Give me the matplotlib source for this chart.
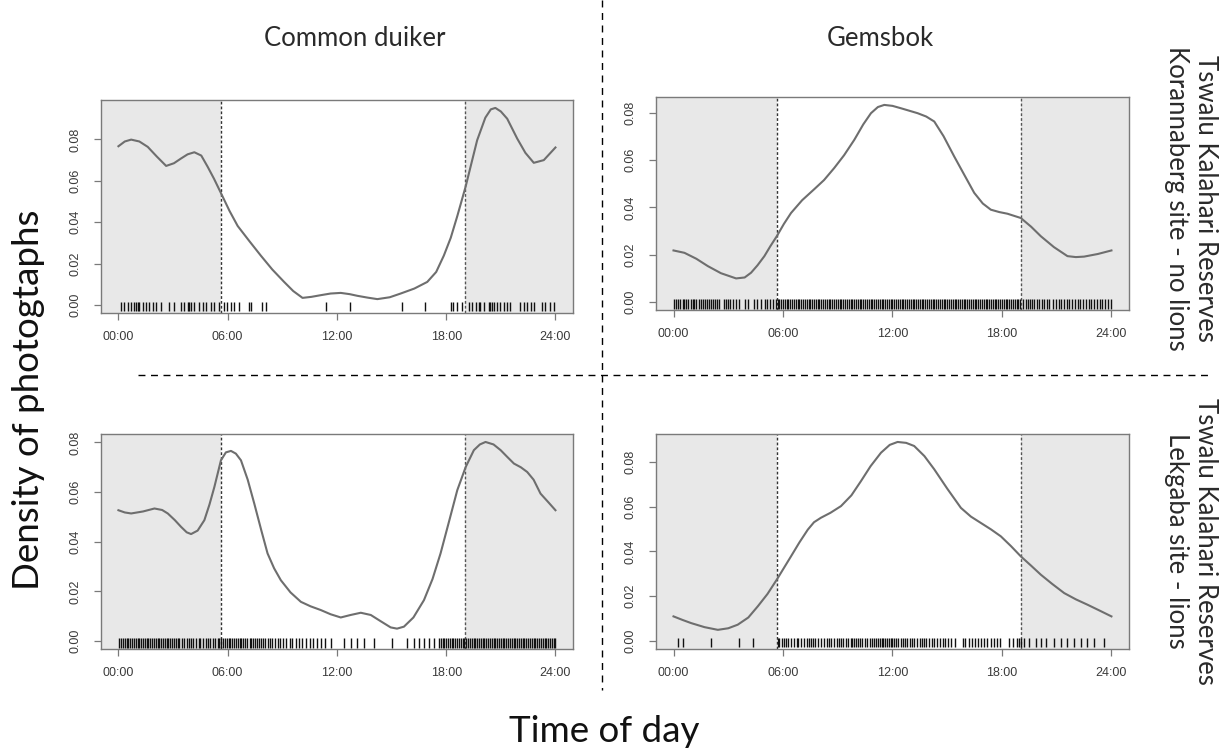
import matplotlib
matplotlib.use("Agg")
import matplotlib.pyplot as plt
from matplotlib.lines import Line2D

# activity density curves (hour of day, density)
duiker_north_hours = [0, 0.35, 0.7, 1.15, 1.61, 2.1, 2.62, 3.05, 3.44, 3.8, 4.17, 4.55, 4.9, 5.25, 5.63,
                      6.1, 6.55, 7.2, 7.82, 8.45, 9.1, 9.6, 10.11, 10.6, 11.11, 11.65, 12.21, 12.7, 13.12,
                      13.7, 14.22, 14.9, 15.5, 16.25, 16.96, 17.45, 17.87, 18.25, 18.61, 19.07, 19.4,
                      19.7, 20.15, 20.45, 20.7, 21.0, 21.35, 21.9, 22.35, 22.81, 23.36, 24]
duiker_north_dens = [0.0767, 0.0790, 0.0799, 0.0790, 0.0764, 0.0718, 0.0672, 0.0685, 0.0708, 0.0728,
                     0.0738, 0.0722, 0.0668, 0.0610, 0.0541, 0.0455, 0.0382, 0.0308, 0.0239, 0.0172,
                     0.0112, 0.0068, 0.0035, 0.0040, 0.0048, 0.0056, 0.0059, 0.0053, 0.0045, 0.0036,
                     0.0029, 0.0038, 0.0056, 0.0080, 0.0112, 0.0160, 0.0239, 0.0325, 0.0430, 0.0573,
                     0.0690, 0.0796, 0.0905, 0.0945, 0.0952, 0.0935, 0.0900, 0.0804, 0.0735, 0.0687,
                     0.0700, 0.0761]

gemsbok_north_hours = [0, 0.6, 1.25, 1.88, 2.6, 3.43, 3.9, 4.25, 4.6, 4.98, 5.3, 5.66, 6.05, 6.44, 7.05,
                       7.72, 8.25, 8.81, 9.35, 9.91, 10.4, 10.82, 11.2, 11.55, 12.0, 12.46, 12.9, 13.38,
                       13.85, 14.29, 14.8, 15.38, 15.95, 16.48, 16.95, 17.39, 17.85, 18.3, 19.03, 19.6,
                       20.13, 20.85, 21.59, 22.05, 22.5, 23.25, 24]
gemsbok_north_dens = [0.0218, 0.0208, 0.0183, 0.0152, 0.0122, 0.0100, 0.0104, 0.0124, 0.0155, 0.0194,
                      0.0235, 0.0278, 0.0330, 0.0376, 0.0430, 0.0477, 0.0515, 0.0566, 0.0620, 0.0685,
                      0.0750, 0.0797, 0.0823, 0.0832, 0.0828, 0.0818, 0.0808, 0.0797, 0.0783, 0.0762,
                      0.0700, 0.0615, 0.0535, 0.0461, 0.0416, 0.0390, 0.0380, 0.0373, 0.0355, 0.0318,
                      0.0278, 0.0232, 0.0194, 0.0190, 0.0192, 0.0203, 0.0218]

duiker_south_hours = [0, 0.35, 0.7, 1.35, 1.98, 2.4, 2.71, 3.1, 3.44, 3.75, 3.99, 4.35, 4.72, 5.0, 5.27,
                      5.63, 5.9, 6.18, 6.45, 6.73, 7.1, 7.46, 7.85, 8.19, 8.55, 8.92, 9.45, 10.02, 10.55,
                      11.11, 11.65, 12.21, 12.75, 13.31, 13.86, 14.4, 14.95, 15.3, 15.68, 16.2, 16.78,
                      17.25, 17.69, 18.15, 18.61, 19.07, 19.52, 19.85, 20.16, 20.6, 20.99, 21.35, 21.72,
                      22.1, 22.45, 22.8, 23.18, 23.6, 24]
duiker_south_dens = [0.0527, 0.0518, 0.0514, 0.0522, 0.0534, 0.0528, 0.0514, 0.0487, 0.0460, 0.0438,
                     0.0431, 0.0445, 0.0487, 0.0550, 0.0621, 0.0728, 0.0760, 0.0766, 0.0755, 0.0728,
                     0.0650, 0.0554, 0.0445, 0.0353, 0.0293, 0.0245, 0.0196, 0.0158, 0.0140, 0.0125,
                     0.0108, 0.0095, 0.0105, 0.0114, 0.0105, 0.0080, 0.0055, 0.0050, 0.0058, 0.0095,
                     0.0165, 0.0250, 0.0353, 0.0480, 0.0608, 0.0701, 0.0769, 0.0792, 0.0802, 0.0792,
                     0.0769, 0.0742, 0.0715, 0.0700, 0.0681, 0.0650, 0.0594, 0.0560, 0.0527]

gemsbok_south_hours = [0, 0.5, 0.97, 1.7, 2.43, 3.0, 3.52, 4.1, 4.62, 5.15, 5.66, 6.05, 6.44, 6.9, 7.36,
                       7.7, 8.08, 8.6, 9.18, 9.75, 10.27, 10.8, 11.37, 11.85, 12.28, 12.75, 13.19, 13.75,
                       14.29, 15.0, 15.75, 16.3, 16.84, 17.4, 17.94, 18.5, 19.03, 19.6, 20.13, 20.75,
                       21.41, 22.05, 22.69, 23.35, 24]
gemsbok_south_dens = [0.0110, 0.0094, 0.0080, 0.0062, 0.0050, 0.0057, 0.0073, 0.0105, 0.0155, 0.0210,
                      0.0274, 0.0326, 0.0378, 0.0440, 0.0497, 0.0530, 0.0550, 0.0572, 0.0602, 0.0650,
                      0.0713, 0.0780, 0.0840, 0.0875, 0.0888, 0.0884, 0.0870, 0.0825, 0.0766, 0.0680,
                      0.0594, 0.0555, 0.0527, 0.0498, 0.0467, 0.0423, 0.0378, 0.0336, 0.0296, 0.0255,
                      0.0214, 0.0186, 0.0162, 0.0136, 0.0110]

# photograph times (hours) shown as rugs
duiker_north_obs = [0.15, 0.29, 0.51, 0.70, 0.88, 0.97, 1.06, 1.15, 1.34, 1.52, 1.70, 1.88, 2.07, 2.34,
                    2.80, 3.07, 3.44, 3.62, 3.80, 3.89, 3.99, 4.17, 4.44, 4.62, 4.81, 5.08, 5.26, 5.54,
                    5.81, 5.99, 6.18, 6.36, 6.64, 7.18, 7.27, 7.91, 8.10, 11.42, 12.72, 15.59, 16.81,
                    18.24, 18.38, 18.61, 18.88, 19.24, 19.43, 19.61, 19.79, 19.88, 20.07, 20.34, 20.43,
                    20.52, 20.61, 20.80, 20.98, 21.16, 21.35, 21.53, 22.08, 22.26, 22.44, 22.63, 22.81,
                    23.26, 23.45, 23.72, 23.90]

gemsbok_north_obs = [0.05, 0.15, 0.25, 0.35, 0.5, 0.6, 0.7, 0.8, 0.95, 1.05, 1.15, 1.25, 1.4, 1.5, 1.6,
                     1.7, 1.85, 1.95, 2.05, 2.15, 2.3, 2.4, 2.5, 2.75, 2.9, 3.0, 3.1, 3.25, 3.4, 3.6,
                     3.9, 4.1, 4.4, 4.6, 4.8, 5.0, 5.15, 5.3, 5.45, 5.6, 5.7, 5.8, 5.9, 6.0, 6.1, 6.2,
                     6.3, 6.4, 6.5, 6.6, 6.7, 6.8, 6.9, 7.0, 7.1, 7.2, 7.3, 7.4, 7.5, 7.6, 7.7, 7.8,
                     7.9, 8.0, 8.1, 8.2, 8.3, 8.4, 8.5, 8.6, 8.7, 8.8, 8.9, 9.0, 9.1, 9.2, 9.3, 9.4,
                     9.5, 9.6, 9.7, 9.8, 9.9, 10.0, 10.1, 10.2, 10.3, 10.4, 10.5, 10.6, 10.7, 10.8,
                     10.9, 11.0, 11.1, 11.2, 11.3, 11.4, 11.5, 11.6, 11.7, 11.8, 11.9, 12.0, 12.1,
                     12.2, 12.3, 12.4, 12.5, 12.6, 12.7, 12.8, 12.9, 13.0, 13.1, 13.2, 13.3, 13.4,
                     13.5, 13.6, 13.7, 13.8, 13.9, 14.0, 14.1, 14.2, 14.3, 14.4, 14.5, 14.6, 14.7,
                     14.8, 14.9, 15.0, 15.1, 15.2, 15.3, 15.4, 15.5, 15.6, 15.7, 15.8, 15.9, 16.0,
                     16.1, 16.2, 16.3, 16.4, 16.5, 16.6, 16.7, 16.8, 16.9, 17.0, 17.1, 17.2, 17.3,
                     17.4, 17.5, 17.6, 17.7, 17.8, 17.9, 18.0, 18.1, 18.2, 18.3, 18.4, 18.5, 18.6,
                     18.7, 18.8, 18.9, 19.0, 19.15, 19.3, 19.4, 19.55, 19.65, 19.75, 19.9, 20.05,
                     20.2, 20.3, 20.45, 20.6, 20.8, 20.95, 21.1, 21.25, 21.4, 21.55, 21.7, 21.85,
                     22.0, 22.15, 22.3, 22.45, 22.6, 22.75, 22.9, 23.05, 23.2, 23.35, 23.5, 23.65,
                     23.8, 23.95]

duiker_south_obs = [0.05, 0.15, 0.25, 0.35, 0.45, 0.55, 0.65, 0.75, 0.85, 0.95, 1.05, 1.15, 1.25, 1.35,
                    1.45, 1.55, 1.65, 1.75, 1.85, 1.95, 2.05, 2.15, 2.25, 2.35, 2.45, 2.55, 2.65,
                    2.75, 2.85, 2.95, 3.05, 3.15, 3.25, 3.35, 3.5, 3.6, 3.75, 3.85, 4.0, 4.1, 4.25,
                    4.4, 4.5, 4.65, 4.8, 4.9, 5.05, 5.2, 5.3, 5.45, 5.55, 5.65, 5.75, 5.85, 5.95,
                    6.05, 6.15, 6.25, 6.35, 6.45, 6.55, 6.65, 6.75, 6.85, 6.95, 7.05, 7.2, 7.3, 7.4,
                    7.5, 7.6, 7.7, 7.85, 7.95, 8.05, 8.2, 8.3, 8.45, 8.6, 8.75, 8.9, 9.05, 9.2, 9.4,
                    9.55, 9.75, 9.9, 10.1, 10.3, 10.5, 10.7, 10.9, 11.15, 11.35, 11.66, 12.39, 12.75,
                    13.12, 13.49, 14.04, 15.04, 15.86, 16.23, 16.5, 16.77, 17.05, 17.32, 17.6, 17.7,
                    17.8, 17.9, 18.0, 18.1, 18.2, 18.3, 18.4, 18.5, 18.6, 18.7, 18.8, 18.9, 19.0,
                    19.1, 19.2, 19.3, 19.4, 19.5, 19.6, 19.7, 19.8, 19.9, 20.0, 20.1, 20.2, 20.3,
                    20.4, 20.5, 20.6, 20.7, 20.8, 20.9, 21.0, 21.1, 21.2, 21.3, 21.4, 21.5, 21.6,
                    21.7, 21.8, 21.9, 22.0, 22.1, 22.2, 22.3, 22.4, 22.5, 22.6, 22.7, 22.8, 22.9,
                    23.0, 23.1, 23.2, 23.3, 23.4, 23.5, 23.6, 23.7, 23.8, 23.9, 24.0]

gemsbok_south_obs = [0.24, 0.51, 2.06, 3.61, 4.34, 5.7, 5.8, 5.95, 6.05, 6.15, 6.3, 6.45, 6.6, 6.75,
                     6.85, 7.0, 7.15, 7.3, 7.4, 7.55, 7.65, 7.75, 7.9, 8.1, 8.25, 8.4, 8.5, 8.65,
                     8.8, 8.95, 9.05, 9.2, 9.3, 9.45, 9.55, 9.7, 9.8, 9.9, 10.0, 10.1, 10.2, 10.35,
                     10.5, 10.6, 10.75, 10.9, 11.0, 11.1, 11.2, 11.3, 11.4, 11.5, 11.6, 11.7, 11.8,
                     11.9, 12.0, 12.1, 12.2, 12.3, 12.45, 12.55, 12.7, 12.8, 12.95, 13.05, 13.2,
                     13.35, 13.5, 13.6, 13.75, 13.85, 14.0, 14.15, 14.3, 14.45, 14.6, 14.75, 14.9,
                     15.05, 15.2, 15.4, 15.85, 16.0, 16.2, 16.35, 16.5, 16.7, 16.85, 17.0, 17.2,
                     17.4, 17.55, 17.75, 17.9, 18.4, 18.6, 18.8, 18.95, 19.05, 19.21, 19.49, 19.85,
                     20.13, 20.4, 20.85, 21.22, 21.58, 21.95, 22.32, 22.68, 23.05, 23.59]

sunrise = 5.65
sunset = 19.05
x_ticks = [0, 6, 12, 18, 24]
x_labels = ["00:00", "06:00", "12:00", "18:00", "24:00"]
y_ticks = [0.00, 0.02, 0.04, 0.06, 0.08]
species = ["Common duiker", "Gemsbok"]
site_labels = ["Tswalu Kalahari Reserves\nKorannaberg site - no lions",
               "Tswalu Kalahari Reserves\nLekgaba site - lions"]

panels = [
    ([0.0824, 0.5832, 0.3853, 0.2836], duiker_north_hours, duiker_north_dens, duiker_north_obs),
    ([0.5355, 0.5872, 0.3861, 0.2836], gemsbok_north_hours, gemsbok_north_dens, gemsbok_north_obs),
    ([0.0824, 0.1358, 0.3853, 0.2863], duiker_south_hours, duiker_south_dens, duiker_south_obs),
    ([0.5355, 0.1358, 0.3861, 0.2863], gemsbok_south_hours, gemsbok_south_dens, gemsbok_south_obs),
]

fig = plt.figure(figsize=(12.25, 7.51), dpi=100)
frame_col = "#7a7a7a"

for rect, hours, dens, obs in panels:
    ax = fig.add_axes(rect)
    ymax = max(dens)
    lo, hi = -0.04 * ymax, ymax * 1.04
    ax.set_xlim(-0.96, 24.96)
    ax.set_ylim(lo, hi)
    ax.axvspan(-0.96, sunrise, color="#e8e8e8", lw=0, zorder=0)
    ax.axvspan(sunset, 24.96, color="#e8e8e8", lw=0, zorder=0)
    ax.axvline(sunrise, color="#333333", lw=1.0, ls=(0, (2, 1.5)), zorder=1)
    ax.axvline(sunset, color="#555555", lw=1.0, ls=(0, (2, 1.5)), zorder=1)
    ax.vlines(obs, -0.0027, 0.0013, colors="#111111", lw=1.0, zorder=2)
    ax.plot(hours, dens, color="#6e6e6e", lw=1.5, zorder=3)

    ax.set_xticks(x_ticks)
    ax.set_xticklabels(x_labels)
    ax.set_yticks(y_ticks)
    ax.set_yticklabels([f"{v:.2f}" for v in y_ticks], rotation=90, va="center")
    ax.tick_params(axis="both", direction="out", length=5, width=0.9, color=frame_col,
                   labelsize=9, labelcolor="#3a3a3a")
    ax.tick_params(axis="y", pad=9)
    ax.tick_params(axis="x", pad=8)
    for s in ax.spines.values():
        s.set_color(frame_col)
        s.set_linewidth(1.0)
    for lab in ax.get_xticklabels() + ax.get_yticklabels():
        lab.set_family("Liberation Sans")

title_font = dict(family="Lato", color="#2a2a2a", fontsize=18.5)
fig.text(355 / 1225, 1 - 38 / 751, species[0], ha="center", va="center", **title_font)
fig.text(880 / 1225, 1 - 38 / 751, species[1], ha="center", va="center", **title_font)
fig.text(1191 / 1225, 1 - 198 / 751, site_labels[0], ha="center", va="center", rotation=270,
         multialignment="center", linespacing=1.2, **title_font)
fig.text(1191 / 1225, 1 - 541 / 751, site_labels[1], ha="center", va="center", rotation=270,
         multialignment="center", linespacing=1.2, **title_font)
fig.text(29 / 1225, 1 - 400 / 751, "Density of photogtaphs", ha="center", va="center",
         rotation=90, fontsize=26.5, family="Lato", color="#111111")
fig.text(604 / 1225, 1 - 731 / 751, "Time of day", ha="center", va="center",
         fontsize=26.5, family="Lato", color="#111111")

# dashed separators between the panels
fig.add_artist(Line2D([602 / 1225, 602 / 1225], [1.0, 1 - 690 / 751], color="black",
                      lw=1.0, ls=(0, (5, 4)), transform=fig.transFigure))
fig.add_artist(Line2D([138 / 1225, 1212 / 1225], [1 - 375 / 751, 1 - 375 / 751], color="black",
                      lw=1.0, ls=(0, (5, 4)), transform=fig.transFigure))

fig.savefig("out.png", dpi=100, facecolor="white")
